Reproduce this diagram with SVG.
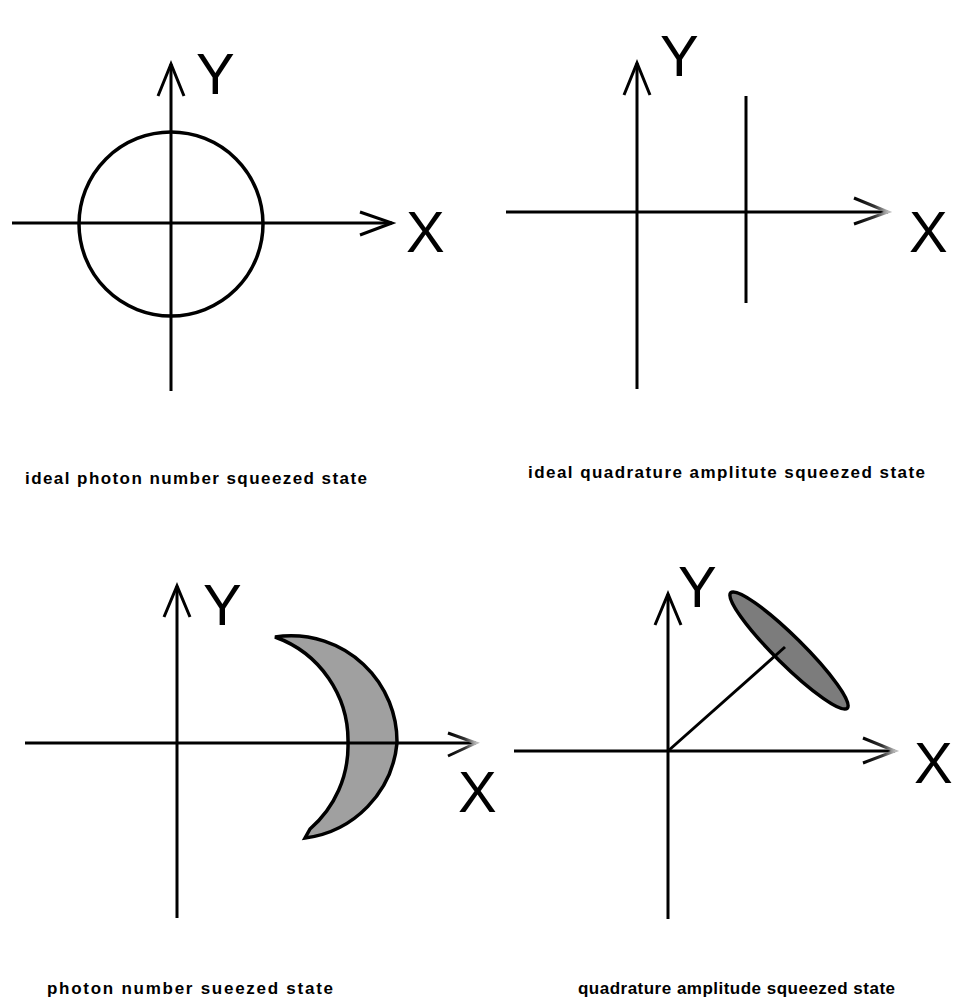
<svg xmlns="http://www.w3.org/2000/svg" width="953" height="999" viewBox="0 0 953 999">
<style>
.ax{stroke:#000;stroke-width:3;fill:none;stroke-linecap:butt}
.ah{stroke:#000;stroke-width:3;fill:none;stroke-linejoin:miter}
.ahg{stroke:url(#fade);stroke-width:3;fill:none}
.lbl{font-family:"Liberation Sans",Arial,sans-serif;font-size:58px;fill:#000}
.cap{font-family:"Liberation Sans",Arial,sans-serif;font-size:17px;font-weight:bold;fill:#000}
.shape{stroke:#000;stroke-width:3.5}
</style>
<defs>
<linearGradient id="fade" x1="0" y1="0" x2="1" y2="0">
<stop offset="0" stop-color="#000"/>
<stop offset="0.6" stop-color="#333"/>
<stop offset="1" stop-color="#bbb"/>
</linearGradient>
</defs>
<rect width="953" height="999" fill="#fff"/>

<g id="panel1">
<circle class="shape" cx="171" cy="224" r="92" fill="none" stroke-width="3"/>
<line class="ax" x1="12" y1="223" x2="392" y2="223"/>
<line class="ax" x1="171" y1="391" x2="171" y2="64"/>
<polyline class="ah" points="360,212 392,223 360,235"/>
<polyline class="ah" points="158,96 171,64 184,96"/>
<text class="lbl" x="196" y="94">Y</text>
<text class="lbl" x="406" y="252">X</text>
<text class="cap" x="25" y="484" textLength="342" lengthAdjust="spacing">ideal photon number squeezed state</text>
</g>

<g id="panel2">
<line class="ax" x1="506" y1="212" x2="888" y2="212"/>
<line class="ax" x1="637" y1="389" x2="637" y2="63"/>
<line class="ax" x1="746" y1="96" x2="746" y2="303"/>
<polyline class="ahg" points="854,198 888,212 854,224"/>
<polyline class="ah" points="624,95 637,63 650,95"/>
<text class="lbl" x="660" y="76">Y</text>
<text class="lbl" x="909" y="252">X</text>
<text class="cap" x="528" y="478" textLength="397" lengthAdjust="spacing">ideal quadrature amplitute squeezed state</text>
</g>

<g id="panel3">
<path class="shape" fill="#a0a0a0" d="M 283 636 A 106 106 0 0 1 397 743 A 106 106 0 0 1 305 838 L 310 829 A 110 110 0 0 0 348 743 A 110 110 0 0 0 275 637 Z"/>
<line class="ax" x1="25" y1="743" x2="476" y2="743"/>
<line class="ax" x1="177" y1="918" x2="177" y2="586"/>
<polyline class="ahg" points="448,733 476,743 448,756"/>
<polyline class="ah" points="164,617 177,586 190,617"/>
<text class="lbl" x="203" y="625">Y</text>
<text class="lbl" x="458" y="812">X</text>
<text class="cap" x="47" y="994" textLength="286" lengthAdjust="spacing">photon number sueezed state</text>
</g>

<g id="panel4">
<ellipse class="shape" cx="789" cy="650.5" rx="82" ry="14" fill="#7c7c7c" transform="rotate(44.7 789 650.5)"/>
<line class="ax" x1="514" y1="751" x2="895" y2="751"/>
<line class="ax" x1="668" y1="919" x2="668" y2="594"/>
<line class="ax" x1="668" y1="751" x2="785" y2="647"/>
<polyline class="ahg" points="863,738 895,751 863,763"/>
<polyline class="ah" points="655,625 668,594 681,625"/>
<text class="lbl" x="678" y="607">Y</text>
<text class="lbl" x="914" y="783">X</text>
<text class="cap" x="578" y="994" textLength="317" lengthAdjust="spacing">quadrature amplitude squeezed state</text>
</g>
</svg>
